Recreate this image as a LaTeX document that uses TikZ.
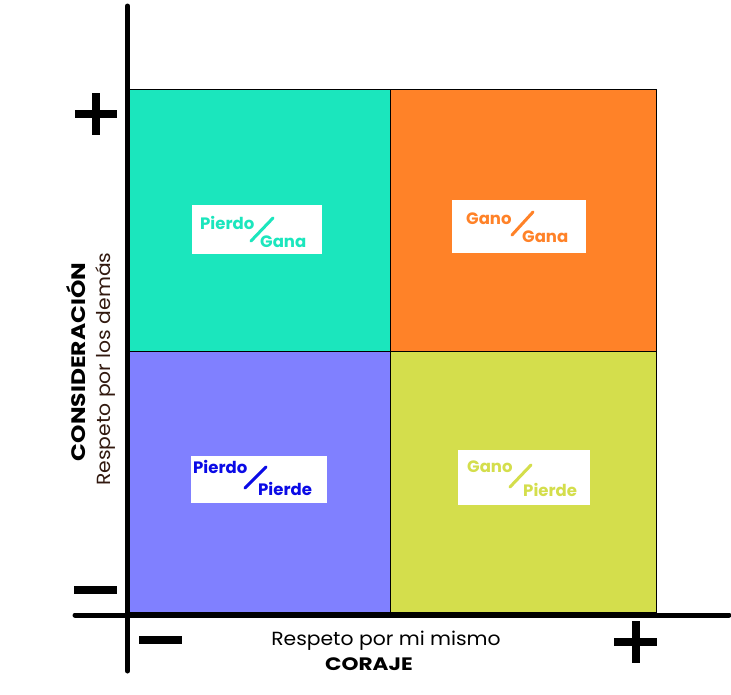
\documentclass[tikz,border=0pt]{standalone}
\usepackage{fontspec}
\setmainfont{Poppins}
\newfontfamily\widea[FakeStretch=1.07]{Poppins}
\newfontfamily\wideb[FakeStretch=1.2]{Poppins}
\begin{document}
\begin{tikzpicture}[x=1pt,y=-1pt,
  quad/.style={draw=black,line width=0.8pt},
  tag/.style={fill=white,inner sep=0pt},
  word/.style={font=\fontsize{16.5}{16.5}\selectfont\bfseries,inner sep=0pt,anchor=base west},
  slashline/.style={line width=3pt,line cap=round},
  axis/.style={line width=5pt,line cap=round},
  sign/.style={line width=8pt}]
\definecolor{qteal}{RGB}{27,230,189}
\definecolor{qorange}{RGB}{255,130,40}
\definecolor{qblue}{RGB}{128,128,255}
\definecolor{qolive}{RGB}{212,222,76}
\definecolor{pblue}{RGB}{10,10,230}
\definecolor{darkbrown}{RGB}{50,25,15}
\useasboundingbox (0,0) rectangle (731,694);
\fill[white] (0,0) rectangle (731,694);
% quadrants
\filldraw[quad,fill=qteal]   (129,89)  rectangle (390,351);
\filldraw[quad,fill=qorange] (390,89)  rectangle (656,351);
\filldraw[quad,fill=qblue]   (129,351) rectangle (390,612);
\filldraw[quad,fill=qolive]  (390,351) rectangle (656,612);
% label boxes
\fill[tag] (192,205) rectangle (322,254);
\node[word,text=qteal] (a1) at (200,229) {Pierdo};
\node[word,text=qteal] (a2) at (260,247) {Gana};
\draw[slashline,qteal] (251,241) -- (273,218);
\fill[tag] (452,200) rectangle (586,253);
\node[word,text=qorange] (b1) at (466,224) {Gano};
\node[word,text=qorange] (b2) at (522,242) {Gana};
\draw[slashline,qorange] (512,235) -- (533,212);
\fill[tag] (191,456) rectangle (327,503);
\node[word,text=pblue] (c1) at (193,473) {Pierdo};
\node[word,text=pblue] (c2) at (258,495) {Pierde};
\draw[slashline,pblue] (245,488) -- (266,467);
\fill[tag] (458,450) rectangle (590,505);
\node[word,text=qolive] (d1) at (467,472) {Gano};
\node[word,text=qolive] (d2) at (523,496) {Pierde};
\draw[slashline,qolive] (510,487) -- (531,465);
% axes
\coordinate (vtop) at (127.5,6);
\coordinate (vbot) at (127.5,671);
\coordinate (hl) at (75,615);
\coordinate (hr) at (729,615);
\draw[axis] (vtop) -- (vbot);
\draw[axis] (hl) -- (hr);
% plus and minus signs
\draw[sign] (75,114) -- (117,114);
\draw[sign] (96,93) -- (96,135);
\draw[sign] (74,590) -- (117,590);
\draw[sign] (139,640) -- (182,640);
\draw[sign] (614,642) -- (657,642);
\draw[sign] (635.5,621) -- (635.5,663);
% axis titles
\node[font=\widea\fontsize{19}{19}\selectfont,anchor=base] (x1) at (386,645) {Respeto por mi mismo};
\node[font=\wideb\fontsize{18}{18}\selectfont\bfseries,anchor=base] (x2) at (369,670) {CORAJE};
\node[font=\wideb\fontsize{19.5}{19.5}\selectfont\bfseries,anchor=base,rotate=90] (y1) at (85,362) {CONSIDERACIÓN};
\node[font=\widea\fontsize{19}{19}\selectfont,anchor=base,rotate=90,text=darkbrown] (y2) at (110,369) {Respeto por los demás};
\end{tikzpicture}
\end{document}
